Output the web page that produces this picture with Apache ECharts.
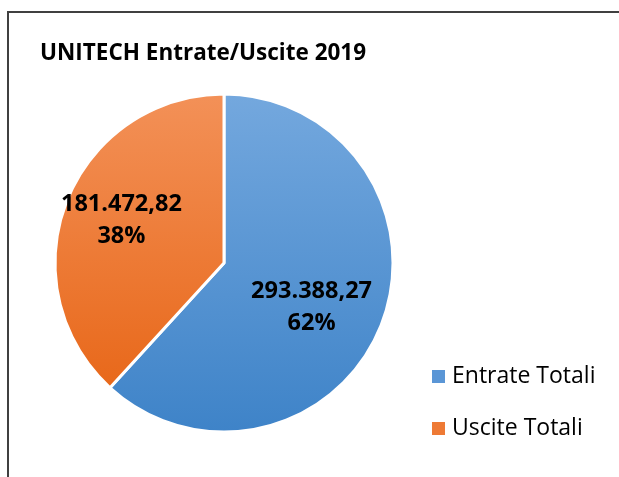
<!DOCTYPE html>
<html>
<head>
<meta charset="utf-8">
<script src="https://cdn.jsdelivr.net/npm/echarts@6/dist/echarts.min.js"></script>
<style>
  html, body { margin: 0; padding: 0; background: #fff; }
  #frame { position: absolute; left: 7px; top: 11px; width: 620px; height: 480px;
           border-top: 2px solid #404040; border-left: 2px solid #404040; }
  #chart { position: absolute; left: 0; top: 0; width: 619px; height: 477px; }
</style>
</head>
<body>
<div id="frame"></div>
<div id="chart"></div>
<script>
var titleText = 'UNITECH Entrate/Uscite 2019';
var categories = ['Entrate Totali', 'Uscite Totali'];
var values = [293388.27, 181472.82];
var gradTop = ['#74a8de', '#f39158'];
var gradBottom = ['#3e83c8', '#e8681a'];
var labelOffsets = [[6, 13], [-21, -11]];

function fmtIt(v) {
    var parts = v.toFixed(2).split('.');
    var intPart = parts[0].replace(/\B(?=(\d{3})+(?!\d))/g, '.');
    return intPart + ',' + parts[1];
}

var total = values.reduce(function (a, b) { return a + b; }, 0);

var pieData = categories.map(function (name, i) {
    return {
        name: name,
        value: values[i],
        itemStyle: {
            color: new echarts.graphic.LinearGradient(0, 0, 0, 1, [
                { offset: 0, color: gradTop[i] },
                { offset: 1, color: gradBottom[i] }
            ])
        },
        label: { offset: labelOffsets[i] }
    };
});

var legendColors = ['#5a96d6', '#ee7a35'];

var option = {
    animation: false,
    title: {
        text: titleText,
        left: 35,
        top: 37,
        textStyle: { fontFamily: 'Open Sans', fontWeight: 'bold', fontSize: 22.5, color: '#000' }
    },
    legend: {
        orient: 'vertical',
        left: 425,
        top: 360,
        itemWidth: 15,
        itemHeight: 15,
        itemGap: 29,
        icon: 'rect',
        data: categories.map(function (c, i) {
            return { name: c, itemStyle: { color: legendColors[i] } };
        }),
        textStyle: { fontFamily: 'Open Sans', fontSize: 23, color: '#000', padding: [0, 0, 0, 1] }
    },
    series: [{
        type: 'pie',
        center: [224, 263],
        radius: [0, 169],
        startAngle: 90,
        clockwise: true,
        data: pieData,
        itemStyle: { borderColor: '#fff', borderWidth: 3 },
        label: {
            show: true,
            position: 'inside',
            fontFamily: 'Open Sans',
            fontWeight: 'bold',
            fontSize: 23.5,
            lineHeight: 32,
            color: '#000',
            formatter: function (p) {
                return fmtIt(p.value) + '\n' + Math.round(p.value / total * 100) + '%';
            }
        },
        emphasis: { disabled: true },
        labelLine: { show: false }
    }]
};

var chart = echarts.init(document.getElementById('chart'));
chart.setOption(option);
</script>
</body>
</html>
